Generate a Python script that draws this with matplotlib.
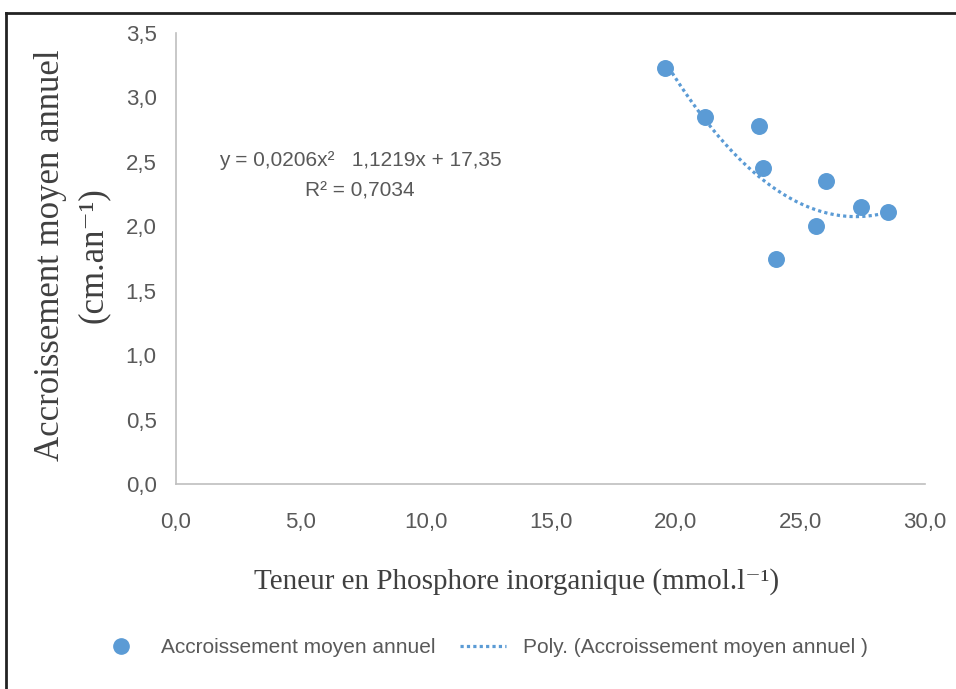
import numpy as np
import matplotlib.pyplot as plt
from matplotlib.lines import Line2D

# Teneur en phosphore inorganique (mmol/l) et accroissement moyen annuel (cm/an)
phosphore = [19.6, 21.2, 23.35, 23.5, 26.05, 27.45, 28.5, 25.65, 24.05]
accroissement = [3.23, 2.85, 2.78, 2.45, 2.35, 2.15, 2.11, 2.00, 1.75]

# Coefficients de la tendance polynomiale (ordre 2)
coef = [0.0206, -1.1219, 17.35]
r2 = 0.7034

x_ticks = [0, 5, 10, 15, 20, 25, 30]
y_ticks = [0, 0.5, 1.0, 1.5, 2.0, 2.5, 3.0, 3.5]

bleu = '#5B9BD5'
gris = '#595959'
serif = ['Liberation Serif', 'DejaVu Serif']
plt.rcParams['font.family'] = ['Liberation Sans', 'DejaVu Sans']

fig = plt.figure(figsize=(9.56, 6.89), dpi=100)
ax = fig.add_axes([0.1841, 0.2975, 0.7835, 0.6546])

ax.scatter(phosphore, accroissement, s=125, color=bleu, zorder=3)

xs = np.linspace(min(phosphore), max(phosphore), 200)
ys = np.polyval(coef, xs)
ax.plot(xs, ys, color=bleu, lw=2.3, linestyle=(0, (1, 1.0)), zorder=2)

ax.set_xlim(0, 30)
ax.set_ylim(0, 3.5)
ax.set_xticks(x_ticks)
ax.set_yticks(y_ticks)
ax.set_xticklabels([f'{v:.1f}'.replace('.', ',') for v in x_ticks])
ax.set_yticklabels([f'{v:.1f}'.replace('.', ',') for v in y_ticks])
ax.tick_params(length=0, labelsize=16, colors=gris)
ax.tick_params(axis='x', pad=20)
ax.tick_params(axis='y', pad=14)

for s in ['top', 'right']:
    ax.spines[s].set_visible(False)
for s in ['left', 'bottom']:
    ax.spines[s].set_color('#BFBFBF')
    ax.spines[s].set_linewidth(1.2)

ax.set_xlabel('Teneur en Phosphore inorganique (mmol.l⁻¹)',
              family=serif, fontsize=21, color='#404040')
ax.xaxis.set_label_coords(0.455, -0.186)
ax.set_ylabel('Accroissement moyen annuel\n(cm.an⁻¹)',
              family=serif, fontsize=25, color='#404040',
              linespacing=1.4)
ax.yaxis.set_label_coords(-0.088, 0.508)

# Équation et R² de la courbe de tendance
ax.text(0.246, 0.683, 'y = 0,0206x²   1,1219x + 17,35\nR² = 0,7034',
        transform=ax.transAxes, ha='center', va='center', fontsize=15,
        color=gris, linespacing=1.75)

handles = [
    Line2D([], [], marker='o', color=bleu, linestyle='none', markersize=11),
    Line2D([], [], color=bleu, lw=2.3, linestyle=(0, (1, 1.0))),
]
labels = ['Accroissement moyen annuel', 'Poly. (Accroissement moyen annuel )']
fig.legend(handles, labels, loc='center', bbox_to_anchor=(0.505, 0.06),
           ncol=2, frameon=False, fontsize=15, labelcolor=gris,
           handlelength=2.2, handletextpad=0.8, columnspacing=1.2)

# Cadre autour de la figure
fig.add_artist(Line2D([0.006, 0.006], [0.0, 0.981], color='#222222', lw=2,
                      transform=fig.transFigure))
fig.add_artist(Line2D([0.006, 1.0], [0.981, 0.981], color='#222222', lw=2,
                      transform=fig.transFigure))

fig.savefig('out.png', dpi=100)
